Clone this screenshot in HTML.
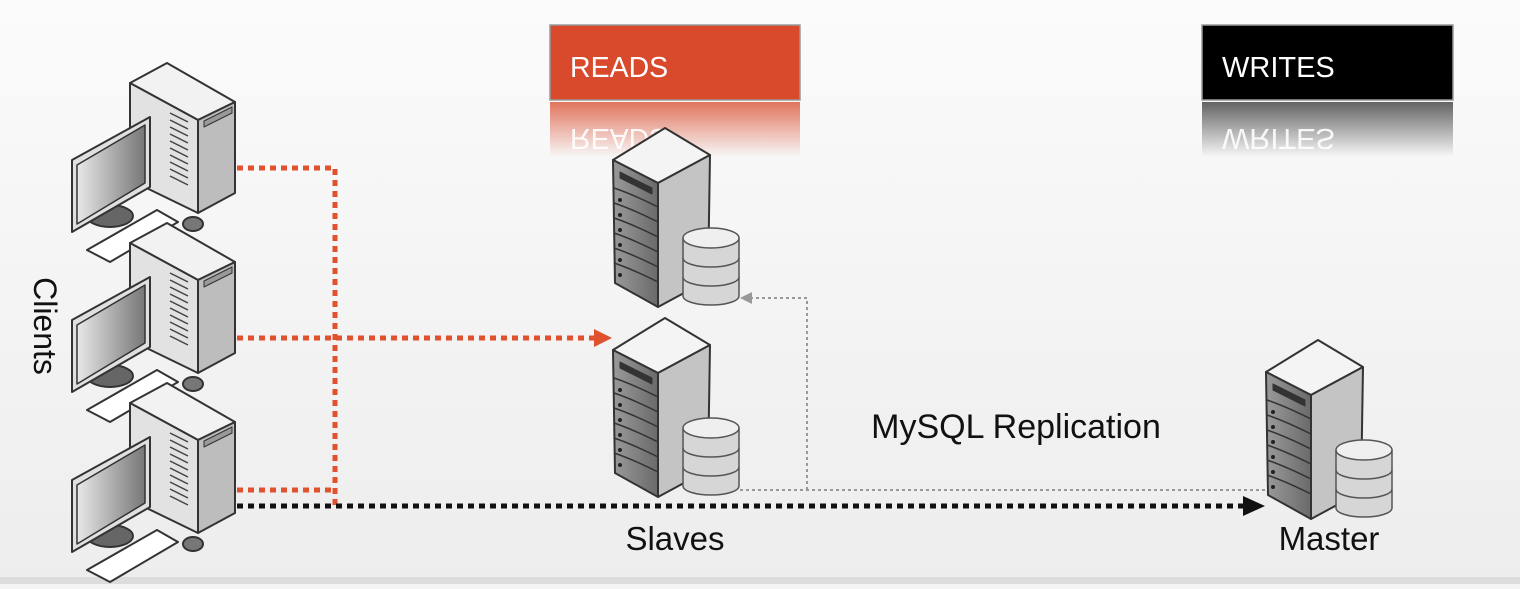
<!DOCTYPE html>
<html><head><meta charset="utf-8"><style>
html,body{margin:0;padding:0;}
body{width:1520px;height:584px;overflow:hidden;background:#f4f4f4;font-family:"Liberation Sans",sans-serif;}
</style></head><body>
<svg width="1520" height="584" viewBox="0 0 1520 584" xmlns="http://www.w3.org/2000/svg">
<defs>
<linearGradient id="bg" x1="0" y1="0" x2="0" y2="1"><stop offset="0" stop-color="#fbfbfb"/><stop offset="1" stop-color="#ededed"/></linearGradient>
<linearGradient id="rr" x1="0" y1="0" x2="0" y2="1"><stop offset="0" stop-color="#d9492b" stop-opacity="0.75"/><stop offset="1" stop-color="#d9492b" stop-opacity="0"/></linearGradient>
<linearGradient id="br" x1="0" y1="0" x2="0" y2="1"><stop offset="0" stop-color="#000" stop-opacity="0.6"/><stop offset="1" stop-color="#000" stop-opacity="0"/></linearGradient>
<linearGradient id="scr" x1="0" y1="0" x2="1" y2="0"><stop offset="0" stop-color="#e8e8e8"/><stop offset="1" stop-color="#777"/></linearGradient>
<linearGradient id="fr" x1="0" y1="0" x2="1" y2="0"><stop offset="0" stop-color="#9a9a9a"/><stop offset="1" stop-color="#6a6a6a"/></linearGradient>
<g id="client" stroke="#333" stroke-width="2" stroke-linejoin="round">
 <polygon points="0,20 37,0 105,39 68,57" fill="#f2f2f2"/>
 <polygon points="0,20 68,57 68,150 0,117" fill="#e2e2e2"/>
 <polygon points="68,57 105,39 105,130 68,150" fill="#bdbdbd"/>
 <polygon points="74,58 102,44 102,50 74,64" fill="#999" stroke-width="1"/>
 <g stroke="#444" stroke-width="1.5">
  <line x1="40" y1="50" x2="58" y2="59"/><line x1="40" y1="57" x2="58" y2="66"/><line x1="40" y1="64" x2="58" y2="73"/><line x1="40" y1="71" x2="58" y2="80"/><line x1="40" y1="78" x2="58" y2="87"/><line x1="40" y1="85" x2="58" y2="94"/><line x1="40" y1="92" x2="58" y2="101"/><line x1="40" y1="99" x2="58" y2="108"/><line x1="40" y1="106" x2="58" y2="115"/><line x1="40" y1="113" x2="58" y2="122"/>
 </g>
 <ellipse cx="-20" cy="153" rx="23" ry="11" fill="#666"/>
 <polygon points="-58,97 20,54 20,124 -58,169" fill="#e0e0e0"/>
 <polygon points="-53,102 15,62 15,120 -53,161" fill="url(#scr)" stroke-width="1.5"/>
 <polygon points="-43,187 27,147 48,159 -20,199" fill="#fff"/>
 <ellipse cx="63" cy="161" rx="10" ry="7" fill="#777"/>
</g>
<g id="server" stroke="#333" stroke-width="2" stroke-linejoin="round">
 <polygon points="1,32 53,0 98,27 46,55" fill="#f4f4f4"/>
 <polygon points="1,32 46,55 46,179 3,155" fill="url(#fr)"/>
 <polygon points="46,55 98,27 96,152 46,179" fill="#c4c4c4"/>
 <polygon points="8,44 40,60 40,66 8,50" fill="#333" stroke-width="1"/>
 <g stroke="#333" stroke-width="1.5" fill="none">
  <path d="M2,60 Q20,66 46,79"/><path d="M2,75 Q20,81 46,94"/><path d="M2,90 Q20,96 46,109"/><path d="M2,105 Q20,111 46,124"/><path d="M2,120 Q20,126 46,139"/><path d="M2,135 Q20,141 46,154"/>
 </g>
 <g fill="#222" stroke="none"><circle cx="8" cy="72" r="2"/><circle cx="8" cy="87" r="2"/><circle cx="8" cy="102" r="2"/><circle cx="8" cy="117" r="2"/><circle cx="8" cy="132" r="2"/><circle cx="8" cy="147" r="2"/></g>
 <g stroke="#555" stroke-width="1.5">
  <path d="M71,110 L71,168 A28,9 0 0 0 127,168 L127,110" fill="#d6d6d6"/>
  <path d="M71,130 A28,9 0 0 0 127,130 M71,149 A28,9 0 0 0 127,149" fill="none"/>
  <ellipse cx="99" cy="110" rx="28" ry="10" fill="#efefef"/>
 </g>
</g>
</defs>
<rect width="1520" height="584" fill="url(#bg)"/>
<rect y="577" width="1520" height="7" fill="#dcdcdc"/>

<rect x="550" y="25" width="250" height="75" fill="#d9492b" stroke="#999" stroke-width="1.5"/>
<text x="570" y="77" font-size="28.5" fill="#fff">READS</text>
<rect x="550" y="102" width="250" height="55" fill="url(#rr)"/>
<text x="570" y="127" font-size="28.5" fill="#fff" transform="matrix(1 0 0 -1 0 256)" opacity="0.9">READS</text>
<rect x="1202" y="25" width="251" height="75" fill="#000" stroke="#999" stroke-width="1.5"/>
<text x="1222" y="77" font-size="29" fill="#fff">WRITES</text>
<rect x="1202" y="102" width="251" height="55" fill="url(#br)"/>
<text x="1222" y="127" font-size="29" fill="#fff" transform="matrix(1 0 0 -1 0 256)" opacity="0.9">WRITES</text>

<g fill="none" stroke-width="5" stroke-dasharray="6,5">
 <path d="M237,168 H335 V505" stroke="#e0512e"/>
 <path d="M237,490 H335" stroke="#e0512e"/>
 <path d="M237,338 H596" stroke="#e0512e"/>
 <path d="M237,506 H1245" stroke="#111"/>
</g>
<polygon points="594,329 612,338 594,347" fill="#e0512e"/>
<polygon points="1243,496 1265,506 1243,516" fill="#111"/>
<g fill="none" stroke="#999" stroke-width="2" stroke-dasharray="3,3">
 <path d="M740,490 H1265"/>
 <path d="M807,490 V298 H752"/>
</g>
<polygon points="752,292 740,298 752,304" fill="#999"/>

<use href="#client" x="130" y="63"/>
<use href="#client" x="130" y="223"/>
<use href="#client" x="130" y="383"/>
<use href="#server" x="612" y="128"/>
<use href="#server" x="612" y="318"/>
<use href="#server" x="1265" y="340"/>

<text x="34" y="326" font-size="32" fill="#111" text-anchor="middle" transform="rotate(90 34 326)">Clients</text>
<text x="675" y="550" font-size="33" fill="#111" text-anchor="middle">Slaves</text>
<text x="1329" y="550" font-size="33" fill="#111" text-anchor="middle">Master</text>
<text x="1016" y="438" font-size="34" fill="#111" text-anchor="middle">MySQL Replication</text>
</svg>
</body></html>
